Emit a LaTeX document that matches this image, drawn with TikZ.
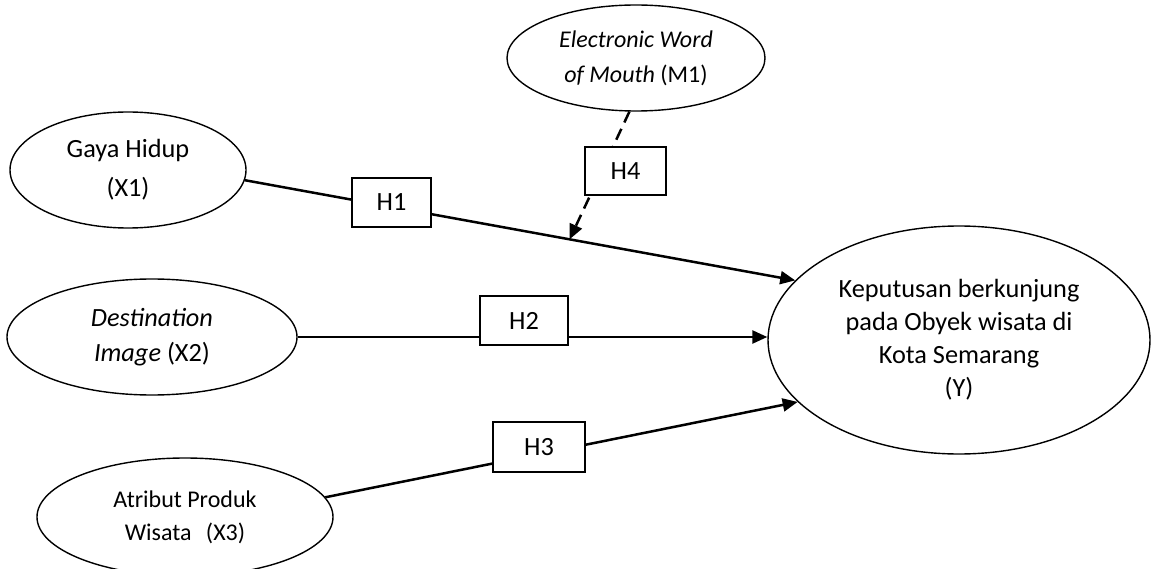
\documentclass[tikz,border=0pt]{standalone}
\usepackage{fontspec}
\setmainfont{Carlito}
\usetikzlibrary{shapes.geometric,arrows.meta}
\begin{document}
\begin{tikzpicture}[x=1pt,y=-1pt,
  var/.style={ellipse,draw,line width=1.4pt,inner sep=0pt,align=center},
  hyp/.style={draw,line width=1.8pt,fill=white,inner sep=0pt,font=\fontsize{26.3}{30}\selectfont},
  conn/.style={line width=2.5pt,-{Triangle[length=15pt,width=13pt]}},
  dconn/.style={conn,dash pattern=on 12pt off 7pt}]
\useasboundingbox (0,0) rectangle (1153,569);
% variables
\node[var,minimum width=236,minimum height=116,font=\fontsize{26.3}{39}\selectfont] (X1) at (128,170) {Gaya Hidup\\(X1)};
\node[var,minimum width=258,minimum height=106,font=\fontsize{24}{35}\selectfont] (M1) at (636,58) {\textit{Electronic Word}\\\textit{of Mouth} (M1)};
\node[var,minimum width=290,minimum height=116,font=\fontsize{26.3}{35}\selectfont] (X2) at (152,337) {\textit{Destination}\\\textit{Image} (X2)};
\node[var,minimum width=296,minimum height=118,font=\fontsize{24}{33}\selectfont] (X3) at (185,517) {Atribut Produk\\Wisata\hspace{9pt} (X3)};
\node[var,minimum width=382,minimum height=228,font=\fontsize{26.3}{33}\selectfont] (Y) at (959,340) {Keputusan berkunjung\\pada Obyek wisata di\\Kota Semarang\\(Y)};
% connectors
\draw[conn] (X1.-5) -- (Y.160) coordinate[pos=0.59] (m);
\draw[conn] (X2.east) -- (X2.east -| Y.west);
\draw[conn] (X3.8) -- (Y.201);
\draw[dconn] (M1.-97) -- (m);
% hypothesis boxes
\node[hyp,minimum width=79,minimum height=49] (H1) at (391.5,202.5) {H1};
\node[hyp,minimum width=88,minimum height=49] (H2) at (524,320.5) {H2};
\node[hyp,minimum width=92,minimum height=50] (H3) at (539,447) {H3};
\node[hyp,minimum width=81,minimum height=48] (H4) at (625.5,171) {H4};
\end{tikzpicture}
\end{document}
